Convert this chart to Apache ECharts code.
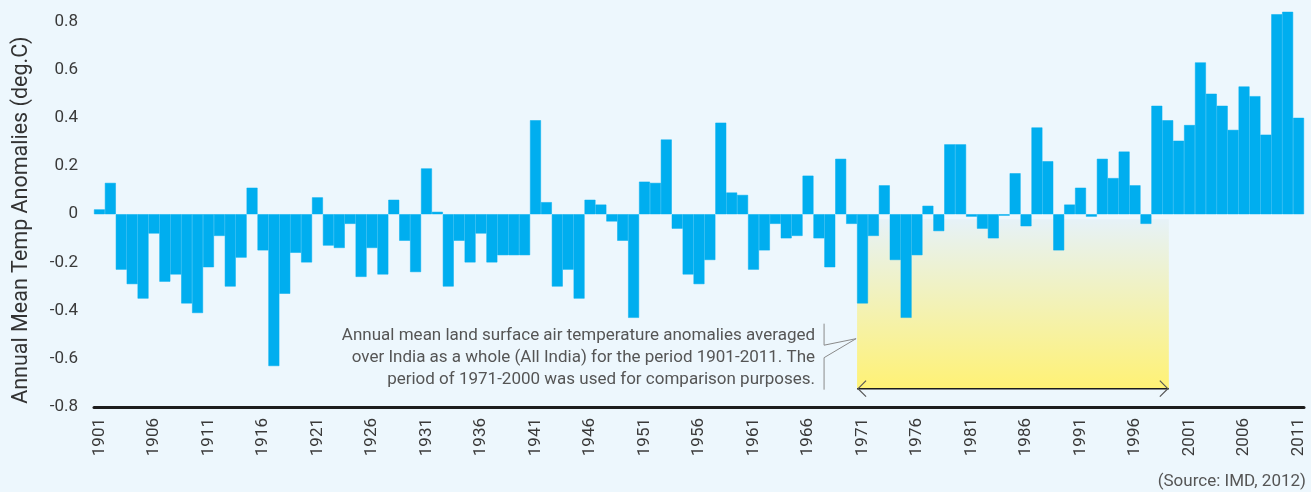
<!DOCTYPE html>
<html>
<head>
<meta charset="utf-8">
<script src="https://cdn.jsdelivr.net/npm/echarts@6/dist/echarts.min.js"></script>
<style>
  html, body { margin: 0; padding: 0; background: #EDF7FD; }
  #chart { width: 1311px; height: 492px; }
</style>
</head>
<body>
<div id="chart"></div>
<script>
// ---- data ----
const startYear = 1901;
const endYear = 2011;
const years = [];
for (let y = startYear; y <= endYear; y++) years.push(String(y));

const anomalies = [
  // 1901-1910
  0.02, 0.13, -0.23, -0.29, -0.35, -0.08, -0.28, -0.25, -0.37, -0.41,
  // 1911-1920
  -0.22, -0.09, -0.30, -0.18, 0.11, -0.15, -0.63, -0.33, -0.16, -0.20,
  // 1921-1930
  0.07, -0.13, -0.14, -0.04, -0.26, -0.14, -0.25, 0.06, -0.11, -0.24,
  // 1931-1940
  0.19, 0.01, -0.30, -0.11, -0.20, -0.08, -0.20, -0.17, -0.17, -0.17,
  // 1941-1950
  0.39, 0.05, -0.30, -0.23, -0.35, 0.06, 0.04, -0.03, -0.11, -0.43,
  // 1951-1960
  0.135, 0.13, 0.31, -0.06, -0.25, -0.29, -0.19, 0.38, 0.09, 0.08,
  // 1961-1970
  -0.23, -0.15, -0.04, -0.10, -0.09, 0.16, -0.10, -0.22, 0.23, -0.04,
  // 1971-1980
  -0.37, -0.09, 0.12, -0.19, -0.43, -0.17, 0.035, -0.07, 0.29, 0.29,
  // 1981-1990
  -0.01, -0.06, -0.10, -0.006, 0.17, -0.05, 0.36, 0.22, -0.15, 0.04,
  // 1991-2000
  0.11, -0.01, 0.23, 0.15, 0.26, 0.12, -0.04, 0.45, 0.39, 0.305,
  // 2001-2011
  0.37, 0.63, 0.50, 0.45, 0.35, 0.53, 0.49, 0.33, 0.83, 0.84, 0.40
];

const yTicks = { min: -0.8, max: 0.86, interval: 0.2 };
const yAxisTitle = 'Annual Mean Temp Anomalies (deg.C)';
const noteLines = [
  'Annual mean land surface air temperature anomalies averaged',
  'over India as a whole (All India) for the period 1901-2011. The',
  'period of 1971-2000 was used for comparison purposes.'
];
const sourceText = '(Source: IMD, 2012)';
const periodBand = { from: 1970.5, to: 1999.1, level: -0.724 };

// ---- chart ----
const FONT = 'Roboto';
const chart = echarts.init(document.getElementById('chart'), null, { renderer: 'canvas' });

chart.setOption({
  backgroundColor: '#EDF7FD',
  animation: false,
  grid: { left: 94, right: 7, top: 7, bottom: 85, containLabel: false },
  xAxis: {
    type: 'category',
    data: years,
    boundaryGap: true,
    axisLine: { show: true, onZero: false, lineStyle: { color: '#1d1d1d', width: 3 } },
    axisTick: { show: false },
    axisLabel: {
      interval: 4,
      rotate: 90,
      margin: 11,
      color: '#3a3a3a',
      fontFamily: FONT,
      fontSize: 17
    },
    splitLine: { show: false }
  },
  yAxis: {
    type: 'value',
    min: yTicks.min,
    max: yTicks.max,
    interval: yTicks.interval,
    axisLine: { show: false },
    axisTick: { show: false },
    splitLine: { show: false },
    axisLabel: {
      showMaxLabel: false,
      margin: 16,
      color: '#3a3a3a',
      fontFamily: FONT,
      fontSize: 17,
      formatter: v => {
        const r = Math.round(v * 10) / 10;
        return r === 0 ? '0' : r.toFixed(1);
      }
    }
  },
  series: [{
    type: 'bar',
    data: anomalies,
    barCategoryGap: '0%',
    itemStyle: { color: '#00AEEF', borderColor: '#00AEEF', borderWidth: 0.5 },
    z: 3
  }]
});

function drawAnnotations() {
  const c0 = chart.convertToPixel({ xAxisIndex: 0 }, years[0]);
  const c1 = chart.convertToPixel({ xAxisIndex: 0 }, years[1]);
  const bw = c1 - c0;
  const xAt = yr => c0 + (yr - startYear) * bw;
  const yAt = v => chart.convertToPixel({ yAxisIndex: 0 }, v);

  const L = xAt(periodBand.from);
  const R = xAt(periodBand.to);
  const top = yAt(0) + 5;
  const A = yAt(periodBand.level);
  const bx = L - 33;
  const textRight = L - 42;

  const elements = [
    {
      type: 'rect',
      z: 1,
      shape: { x: L, y: top, width: R - L, height: A - top },
      style: {
        fill: new echarts.graphic.LinearGradient(0, 0, 0, 1, [
          { offset: 0, color: '#E6F2F8' },
          { offset: 1, color: '#FFF275' }
        ])
      }
    },
    {
      type: 'line', z: 2,
      shape: { x1: L, y1: A, x2: R, y2: A },
      style: { stroke: '#1d1d1d', lineWidth: 1.5 }
    },
    {
      type: 'polyline', z: 2,
      shape: { points: [[L + 9, A - 8], [L + 1, A], [L + 9, A + 8]] },
      style: { stroke: '#555', lineWidth: 1.2, fill: null }
    },
    {
      type: 'polyline', z: 2,
      shape: { points: [[R - 9, A - 8], [R - 1, A], [R - 9, A + 8]] },
      style: { stroke: '#555', lineWidth: 1.2, fill: null }
    },
    {
      type: 'polyline', z: 2,
      shape: { points: [[bx, A - 65], [bx, A - 43.5], [L - 1, A - 50], [bx, A - 31], [bx, A + 1]] },
      style: { stroke: '#8a8a8a', lineWidth: 1, fill: null }
    },
    {
      type: 'text', z: 2,
      x: 22, y: (yAt(0.8) + yAt(-0.8)) / 2 + 6,
      rotation: Math.PI / 2,
      style: {
        text: yAxisTitle,
        fill: '#333',
        font: '21.5px ' + FONT,
        align: 'center',
        verticalAlign: 'middle'
      }
    },
    {
      type: 'text', z: 2,
      x: chart.getWidth() - 5, y: chart.getHeight() - 10,
      style: {
        text: sourceText,
        fill: '#555',
        font: '17px ' + FONT,
        align: 'right',
        verticalAlign: 'middle'
      }
    }
  ];
  noteLines.forEach((line, i) => {
    elements.push({
      type: 'text', z: 2,
      x: textRight, y: A - 53 + i * 22,
      style: {
        text: line,
        fill: '#555',
        font: '17px ' + FONT,
        align: 'right',
        verticalAlign: 'middle'
      }
    });
  });
  chart.setOption({ graphic: { elements } });
}
drawAnnotations();
</script>
</body>
</html>
